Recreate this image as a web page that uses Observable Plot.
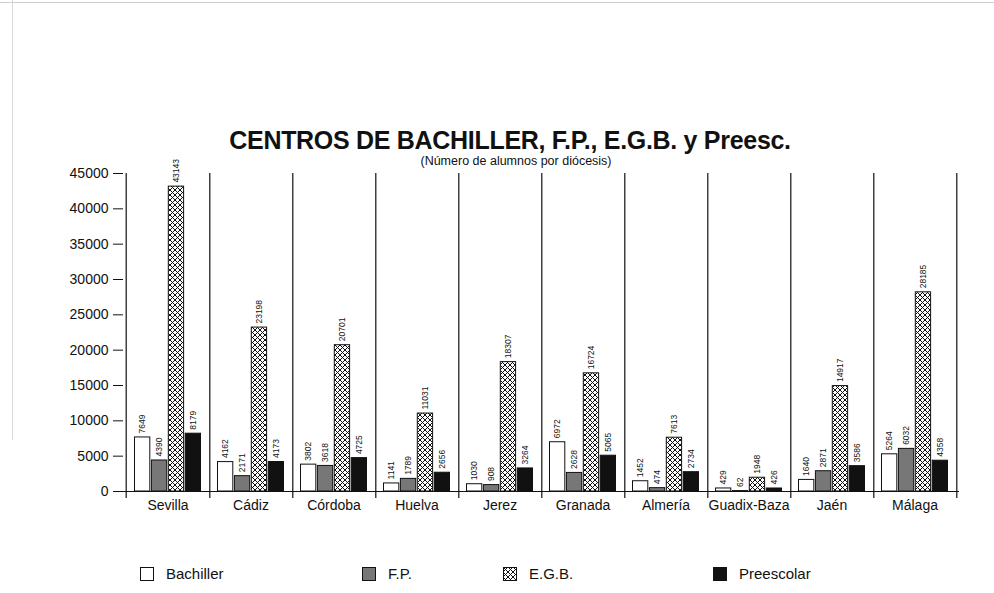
<!DOCTYPE html>
<html>
<head>
<meta charset="utf-8">
<script src="https://cdn.jsdelivr.net/npm/d3@7"></script>
<script src="https://cdn.jsdelivr.net/npm/@observablehq/plot@0.6"></script>
<style>
  html, body { margin: 0; padding: 0; background: #fff; }
  #wrap { position: relative; width: 994px; height: 593px; overflow: hidden; font-family: "Liberation Sans", Arial, Helvetica, sans-serif; color: #111; }
  #title { position: absolute; left: 0; width: 1020px; top: 127px; text-align: center; font-weight: bold; font-size: 25px; letter-spacing: -0.3px; line-height: 26px; }
  #subtitle { position: absolute; left: 0; width: 1032px; top: 154px; text-align: center; font-size: 12.5px; line-height: 14px; }
  #legend { position: absolute; top: 565px; left: 0; width: 994px; height: 20px; font-size: 15px; }
  .li { position: absolute; top: 0; display: flex; align-items: center; gap: 0; }
  .li span { margin-left: 12px; }
  .border-top { position: absolute; left: 0; top: 2px; width: 994px; height: 0; border-top: 1px solid #cfcfcf; }
  .border-left { position: absolute; left: 12px; top: 0; width: 0; height: 440px; border-left: 1px solid #d8d8d8; }
  #chart { position: absolute; left: 0; top: 0; }
</style>
</head>
<body>
<svg width="0" height="0" style="position:absolute">
  <defs>
    <pattern id="hatch" patternUnits="userSpaceOnUse" width="5" height="5">
      <rect width="5" height="5" fill="#fff"/>
      <path d="M0,0 L5,5 M5,0 L0,5" stroke="#111" stroke-width="1"/>
    </pattern>
  </defs>
</svg>
<div id="wrap">
  <div class="border-top"></div>
  <div class="border-left"></div>
  <div id="chart"></div>
  <div id="title">CENTROS DE BACHILLER, F.P., E.G.B. y Preesc.</div>
  <div id="subtitle">(Número de alumnos por diócesis)</div>
  <div id="legend"></div>
</div>
<script>
const cities = ["Sevilla","Cádiz","Córdoba","Huelva","Jerez","Granada","Almería","Guadix-Baza","Jaén","Málaga"];
const seriesNames = ["Bachiller","F.P.","E.G.B.","Preescolar"];
const bachiller  = [7649, 4162, 3802, 1141, 1030, 6972, 1452, 429, 1640, 5264];
const fp         = [4390, 2171, 3618, 1789, 908, 2628, 474, 62, 2871, 6032];
const egb        = [43143, 23198, 20701, 11031, 18307, 16724, 7613, 1948, 14917, 28185];
const preescolar = [8179, 4173, 4725, 2656, 3264, 5065, 2734, 426, 3586, 4358];
const yTicks = [0, 5000, 10000, 15000, 20000, 25000, 30000, 35000, 40000, 45000];

const seriesValues = [bachiller, fp, egb, preescolar];
const fills = ["#fff", "#777", "url(#hatch)", "#111"];

const W = 994, H = 593;
const mL = 123, mR = 35, mT = 173, mB = 102;
const bw = (W - mL - mR) / cities.length;
const pad = 8;
const barW = (bw - 2 * pad) / 4;

const marks = [];
seriesValues.forEach((vals, i) => {
  const data = cities.map((c, j) => ({city: c, value: vals[j], series: seriesNames[i]}));
  marks.push(Plot.barY(data, {
    x: "city", y: "value",
    fill: fills[i], stroke: "#111", strokeWidth: 1,
    insetLeft: pad + barW * i + 0.5,
    insetRight: bw - pad - barW * (i + 1) + 0.5
  }));
  marks.push(Plot.text(data, {
    x: "city", y: "value", text: d => String(d.value),
    rotate: -90, textAnchor: "start", lineAnchor: "middle",
    dx: pad + barW * i + barW / 2 - bw / 2, dy: -4,
    fontSize: 8.5, fill: "#111",
    fontFamily: "'Liberation Sans Narrow', 'Liberation Sans', Arial, sans-serif"
  }));
});

// group dividers and axis lines
marks.push(Plot.ruleX(cities, {x: d => d, dx: bw / 2, stroke: "#111", strokeWidth: 1.2, insetBottom: -7}));
marks.push(Plot.ruleX([cities[0]], {x: d => d, dx: -bw / 2, stroke: "#111", strokeWidth: 1.2, insetBottom: -7}));
marks.push(Plot.ruleY([0], {stroke: "#111", strokeWidth: 1.2, insetLeft: -6}));

const chart = Plot.plot({
  width: W, height: H,
  marginLeft: mL, marginRight: mR, marginTop: mT, marginBottom: mB,
  style: {fontFamily: "'Liberation Sans', Arial, sans-serif", fontSize: "14px", color: "#111", background: "transparent"},
  x: {domain: cities, padding: 0, label: null, tickSize: 0, tickPadding: 9},
  y: {domain: [0, 45000], ticks: yTicks, tickFormat: d => String(d), tickSize: 10, tickPadding: 5, label: null},
  marks
});
document.getElementById("chart").appendChild(chart);

// legend
const legendItems = [
  {name: "Bachiller", fill: "#fff", x: 140},
  {name: "F.P.", fill: "#777", x: 362},
  {name: "E.G.B.", fill: "url(#hatch)", x: 503},
  {name: "Preescolar", fill: "#111", x: 713}
];
const legend = document.getElementById("legend");
legendItems.forEach(it => {
  const div = document.createElement("div");
  div.className = "li";
  div.style.left = it.x + "px";
  div.innerHTML = `<svg width="14" height="14"><rect x="0.5" y="0.5" width="13" height="13" fill="${it.fill}" stroke="#111"/></svg><span>${it.name}</span>`;
  legend.appendChild(div);
});
</script>
</body>
</html>
